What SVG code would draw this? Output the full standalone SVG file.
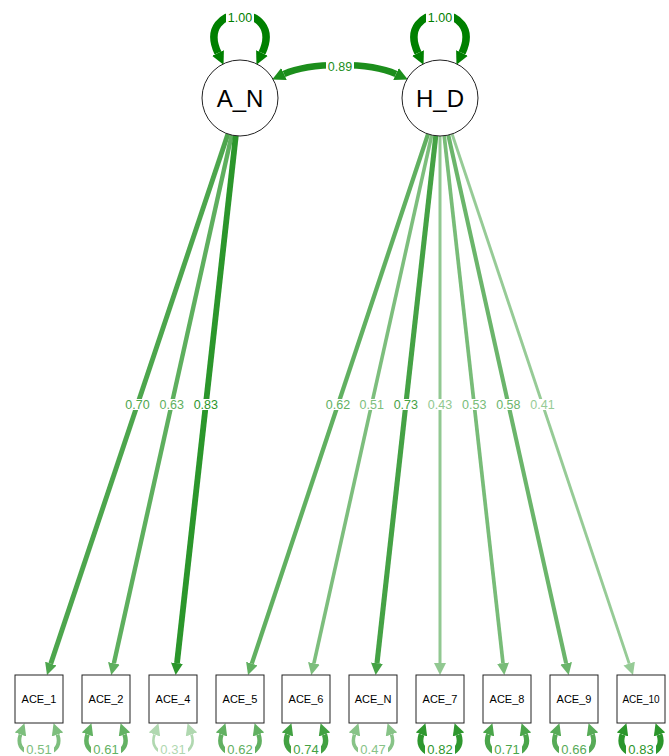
<svg xmlns="http://www.w3.org/2000/svg" width="669" height="756" viewBox="0 0 669 756">
<style>
.e{fill:none;stroke-linecap:butt}
.lb{fill:#fff}
.lt{font-family:"Liberation Sans",Arial,sans-serif;font-size:12.5px;text-anchor:middle}
.rt{font-family:"Liberation Sans",Arial,sans-serif;font-size:13px;text-anchor:middle}
.bx{fill:#fff;stroke:#222;stroke-width:1}
.ci{fill:#fff;stroke:#222;stroke-width:1}
.bt{font-family:"Liberation Sans",Arial,sans-serif;font-size:11px;text-anchor:middle;fill:#000}
.ct{font-family:"Liberation Sans",Arial,sans-serif;font-size:24px;text-anchor:middle;fill:#000}
</style>
<defs>
<marker id="m100" markerUnits="userSpaceOnUse" markerWidth="13" markerHeight="13" viewBox="0 0 12 12" refX="0" refY="6" orient="auto-start-reverse"><path d="M0,0 L12,6 L0,12 z" fill="#008000"/></marker>
<marker id="m89" markerUnits="userSpaceOnUse" markerWidth="13" markerHeight="13" viewBox="0 0 12 12" refX="0" refY="6" orient="auto-start-reverse"><path d="M0,0 L12,6 L0,12 z" fill="#1c8e1c"/></marker>
<marker id="m83" markerUnits="userSpaceOnUse" markerWidth="12" markerHeight="12" viewBox="0 0 12 12" refX="0" refY="6" orient="auto-start-reverse"><path d="M0,0 L12,6 L0,12 z" fill="#2b962b"/></marker>
<marker id="m82" markerUnits="userSpaceOnUse" markerWidth="12" markerHeight="12" viewBox="0 0 12 12" refX="0" refY="6" orient="auto-start-reverse"><path d="M0,0 L12,6 L0,12 z" fill="#2e972e"/></marker>
<marker id="m74" markerUnits="userSpaceOnUse" markerWidth="12" markerHeight="12" viewBox="0 0 12 12" refX="0" refY="6" orient="auto-start-reverse"><path d="M0,0 L12,6 L0,12 z" fill="#42a142"/></marker>
<marker id="m73" markerUnits="userSpaceOnUse" markerWidth="12" markerHeight="12" viewBox="0 0 12 12" refX="0" refY="6" orient="auto-start-reverse"><path d="M0,0 L12,6 L0,12 z" fill="#45a245"/></marker>
<marker id="m71" markerUnits="userSpaceOnUse" markerWidth="12" markerHeight="12" viewBox="0 0 12 12" refX="0" refY="6" orient="auto-start-reverse"><path d="M0,0 L12,6 L0,12 z" fill="#4aa54a"/></marker>
<marker id="m70" markerUnits="userSpaceOnUse" markerWidth="12" markerHeight="12" viewBox="0 0 12 12" refX="0" refY="6" orient="auto-start-reverse"><path d="M0,0 L12,6 L0,12 z" fill="#4da64d"/></marker>
<marker id="m66" markerUnits="userSpaceOnUse" markerWidth="12" markerHeight="12" viewBox="0 0 12 12" refX="0" refY="6" orient="auto-start-reverse"><path d="M0,0 L12,6 L0,12 z" fill="#57ab57"/></marker>
<marker id="m63" markerUnits="userSpaceOnUse" markerWidth="12" markerHeight="12" viewBox="0 0 12 12" refX="0" refY="6" orient="auto-start-reverse"><path d="M0,0 L12,6 L0,12 z" fill="#5eaf5e"/></marker>
<marker id="m62" markerUnits="userSpaceOnUse" markerWidth="12" markerHeight="12" viewBox="0 0 12 12" refX="0" refY="6" orient="auto-start-reverse"><path d="M0,0 L12,6 L0,12 z" fill="#61b061"/></marker>
<marker id="m61" markerUnits="userSpaceOnUse" markerWidth="12" markerHeight="12" viewBox="0 0 12 12" refX="0" refY="6" orient="auto-start-reverse"><path d="M0,0 L12,6 L0,12 z" fill="#63b263"/></marker>
<marker id="m58" markerUnits="userSpaceOnUse" markerWidth="12" markerHeight="12" viewBox="0 0 12 12" refX="0" refY="6" orient="auto-start-reverse"><path d="M0,0 L12,6 L0,12 z" fill="#6bb56b"/></marker>
<marker id="m53" markerUnits="userSpaceOnUse" markerWidth="12" markerHeight="12" viewBox="0 0 12 12" refX="0" refY="6" orient="auto-start-reverse"><path d="M0,0 L12,6 L0,12 z" fill="#78bc78"/></marker>
<marker id="m51" markerUnits="userSpaceOnUse" markerWidth="12" markerHeight="12" viewBox="0 0 12 12" refX="0" refY="6" orient="auto-start-reverse"><path d="M0,0 L12,6 L0,12 z" fill="#7dbe7d"/></marker>
<marker id="m47" markerUnits="userSpaceOnUse" markerWidth="12" markerHeight="12" viewBox="0 0 12 12" refX="0" refY="6" orient="auto-start-reverse"><path d="M0,0 L12,6 L0,12 z" fill="#87c387"/></marker>
<marker id="m43" markerUnits="userSpaceOnUse" markerWidth="12" markerHeight="12" viewBox="0 0 12 12" refX="0" refY="6" orient="auto-start-reverse"><path d="M0,0 L12,6 L0,12 z" fill="#91c891"/></marker>
<marker id="m41" markerUnits="userSpaceOnUse" markerWidth="12" markerHeight="12" viewBox="0 0 12 12" refX="0" refY="6" orient="auto-start-reverse"><path d="M0,0 L12,6 L0,12 z" fill="#96cb96"/></marker>
<marker id="m31" markerUnits="userSpaceOnUse" markerWidth="12" markerHeight="12" viewBox="0 0 12 12" refX="0" refY="6" orient="auto-start-reverse"><path d="M0,0 L12,6 L0,12 z" fill="#b0d8b0"/></marker>
</defs>
<rect width="669" height="756" fill="#fff"/>
<g id="connectors">
  <path class="e" d="M218,53 C194,2 286,2 262,53" stroke="#008000" stroke-width="7.5" marker-start="url(#m100)" marker-end="url(#m100)"/>
  <path class="e" d="M418,53 C394,2 486,2 462,53" stroke="#008000" stroke-width="7.5" marker-start="url(#m100)" marker-end="url(#m100)"/>
  <path class="e" d="M284,74 C310,62 370,62 396,74" stroke="#1c8e1c" stroke-width="6.5" marker-start="url(#m89)" marker-end="url(#m89)"/>
  <path class="e" d="M227.9,134 L50.8,663.6" stroke="#4da64d" stroke-width="4.9" marker-end="url(#m70)"/>
  <path class="e" d="M231.7,135.1 L113.9,663.3" stroke="#5eaf5e" stroke-width="4.4" marker-end="url(#m63)"/>
  <path class="e" d="M235.8,135.8 L177,663.1" stroke="#2b962b" stroke-width="5.8" marker-end="url(#m83)"/>
  <path class="e" d="M428,134.1 L251.8,663.6" stroke="#61b061" stroke-width="4.3" marker-end="url(#m62)"/>
  <path class="e" d="M431.7,135.1 L313.9,663.3" stroke="#7dbe7d" stroke-width="3.6" marker-end="url(#m51)"/>
  <path class="e" d="M435.8,135.8 L377,663.1" stroke="#45a245" stroke-width="5.1" marker-end="url(#m73)"/>
  <path class="e" d="M440,136 L440,663" stroke="#91c891" stroke-width="3" marker-end="url(#m43)"/>
  <path class="e" d="M444.2,135.8 L503,663.1" stroke="#78bc78" stroke-width="3.7" marker-end="url(#m53)"/>
  <path class="e" d="M448.3,135.1 L566.1,663.3" stroke="#6bb56b" stroke-width="4.1" marker-end="url(#m58)"/>
  <path class="e" d="M452.1,134 L629.2,663.6" stroke="#96cb96" stroke-width="2.9" marker-end="url(#m41)"/>
  <path class="e" d="M20.5,734.5 C11,762 67,762 57.5,734.5" stroke="#7dbe7d" stroke-width="3.8" marker-start="url(#m51)" marker-end="url(#m51)"/>
  <path class="e" d="M87.5,734.5 C78,762 134,762 124.5,734.5" stroke="#63b263" stroke-width="4.5" marker-start="url(#m61)" marker-end="url(#m61)"/>
  <path class="e" d="M154.5,734.5 C145,762 201,762 191.5,734.5" stroke="#b0d8b0" stroke-width="2.6" marker-start="url(#m31)" marker-end="url(#m31)"/>
  <path class="e" d="M221.5,734.5 C212,762 268,762 258.5,734.5" stroke="#61b061" stroke-width="4.5" marker-start="url(#m62)" marker-end="url(#m62)"/>
  <path class="e" d="M287.5,734.5 C278,762 334,762 324.5,734.5" stroke="#42a142" stroke-width="5.4" marker-start="url(#m74)" marker-end="url(#m74)"/>
  <path class="e" d="M354.5,734.5 C345,762 401,762 391.5,734.5" stroke="#87c387" stroke-width="3.5" marker-start="url(#m47)" marker-end="url(#m47)"/>
  <path class="e" d="M421.5,734.5 C412,762 468,762 458.5,734.5" stroke="#2e972e" stroke-width="5.9" marker-start="url(#m82)" marker-end="url(#m82)"/>
  <path class="e" d="M488.5,734.5 C479,762 535,762 525.5,734.5" stroke="#4aa54a" stroke-width="5.2" marker-start="url(#m71)" marker-end="url(#m71)"/>
  <path class="e" d="M555.5,734.5 C546,762 602,762 592.5,734.5" stroke="#57ab57" stroke-width="4.8" marker-start="url(#m66)" marker-end="url(#m66)"/>
  <path class="e" d="M622.5,734.5 C613,762 669,762 659.5,734.5" stroke="#2b962b" stroke-width="6" marker-start="url(#m83)" marker-end="url(#m83)"/>
  <rect class="lb" x="226" y="11" width="28" height="12"/><text class="lt" x="240" y="21.5" fill="#008000">1.00</text>
  <rect class="lb" x="426" y="11" width="28" height="12"/><text class="lt" x="440" y="21.5" fill="#008000">1.00</text>
  <rect class="lb" x="326" y="60" width="28" height="12"/><text class="lt" x="340" y="70.5" fill="#1c8e1c">0.89</text>
  <rect class="lb" x="123.5" y="399" width="28" height="11"/><text class="lt" x="137.5" y="409" fill="#4da64d">0.70</text>
  <rect class="lb" x="157.7" y="399" width="28" height="11"/><text class="lt" x="171.7" y="409" fill="#5eaf5e">0.63</text>
  <rect class="lb" x="191.8" y="399" width="28" height="11"/><text class="lt" x="205.8" y="409" fill="#2b962b">0.83</text>
  <rect class="lb" x="324" y="399" width="28" height="11"/><text class="lt" x="338" y="409" fill="#61b061">0.62</text>
  <rect class="lb" x="357.7" y="399" width="28" height="11"/><text class="lt" x="371.7" y="409" fill="#7dbe7d">0.51</text>
  <rect class="lb" x="391.8" y="399" width="28" height="11"/><text class="lt" x="405.8" y="409" fill="#45a245">0.73</text>
  <rect class="lb" x="426" y="399" width="28" height="11"/><text class="lt" x="440" y="409" fill="#91c891">0.43</text>
  <rect class="lb" x="460.2" y="399" width="28" height="11"/><text class="lt" x="474.2" y="409" fill="#78bc78">0.53</text>
  <rect class="lb" x="494.3" y="399" width="28" height="11"/><text class="lt" x="508.3" y="409" fill="#6bb56b">0.58</text>
  <rect class="lb" x="528.5" y="399" width="28" height="11"/><text class="lt" x="542.5" y="409" fill="#96cb96">0.41</text>
  <rect class="lb" x="24" y="744" width="30" height="12"/><text class="rt" x="39" y="753.5" fill="#7dbe7d">0.51</text>
  <rect class="lb" x="91" y="744" width="30" height="12"/><text class="rt" x="106" y="753.5" fill="#63b263">0.61</text>
  <rect class="lb" x="158" y="744" width="30" height="12"/><text class="rt" x="173" y="753.5" fill="#b0d8b0">0.31</text>
  <rect class="lb" x="225" y="744" width="30" height="12"/><text class="rt" x="240" y="753.5" fill="#61b061">0.62</text>
  <rect class="lb" x="291" y="744" width="30" height="12"/><text class="rt" x="306" y="753.5" fill="#42a142">0.74</text>
  <rect class="lb" x="358" y="744" width="30" height="12"/><text class="rt" x="373" y="753.5" fill="#87c387">0.47</text>
  <rect class="lb" x="425" y="744" width="30" height="12"/><text class="rt" x="440" y="753.5" fill="#2e972e">0.82</text>
  <rect class="lb" x="492" y="744" width="30" height="12"/><text class="rt" x="507" y="753.5" fill="#4aa54a">0.71</text>
  <rect class="lb" x="559" y="744" width="30" height="12"/><text class="rt" x="574" y="753.5" fill="#57ab57">0.66</text>
  <rect class="lb" x="626" y="744" width="30" height="12"/><text class="rt" x="641" y="753.5" fill="#2b962b">0.83</text>
</g>
<g id="A_N"><circle class="ci" cx="240" cy="98" r="38"/><text class="ct" x="240" y="106.5">A_N</text></g>
<g id="H_D"><circle class="ci" cx="440" cy="98" r="38"/><text class="ct" x="440" y="106.5">H_D</text></g>
<g id="ACE_1"><rect class="bx" x="15" y="675" width="48" height="48"/><text class="bt" x="39" y="703">ACE_1</text></g>
<g id="ACE_2"><rect class="bx" x="82" y="675" width="48" height="48"/><text class="bt" x="106" y="703">ACE_2</text></g>
<g id="ACE_4"><rect class="bx" x="149" y="675" width="48" height="48"/><text class="bt" x="173" y="703">ACE_4</text></g>
<g id="ACE_5"><rect class="bx" x="216" y="675" width="48" height="48"/><text class="bt" x="240" y="703">ACE_5</text></g>
<g id="ACE_6"><rect class="bx" x="282" y="675" width="48" height="48"/><text class="bt" x="306" y="703">ACE_6</text></g>
<g id="ACE_N"><rect class="bx" x="349" y="675" width="48" height="48"/><text class="bt" x="373" y="703">ACE_N</text></g>
<g id="ACE_7"><rect class="bx" x="416" y="675" width="48" height="48"/><text class="bt" x="440" y="703">ACE_7</text></g>
<g id="ACE_8"><rect class="bx" x="483" y="675" width="48" height="48"/><text class="bt" x="507" y="703">ACE_8</text></g>
<g id="ACE_9"><rect class="bx" x="550" y="675" width="48" height="48"/><text class="bt" x="574" y="703">ACE_9</text></g>
<g id="ACE_10"><rect class="bx" x="617" y="675" width="48" height="48"/><text class="bt" x="641" y="703" style="font-size:10px">ACE_10</text></g>
</svg>
